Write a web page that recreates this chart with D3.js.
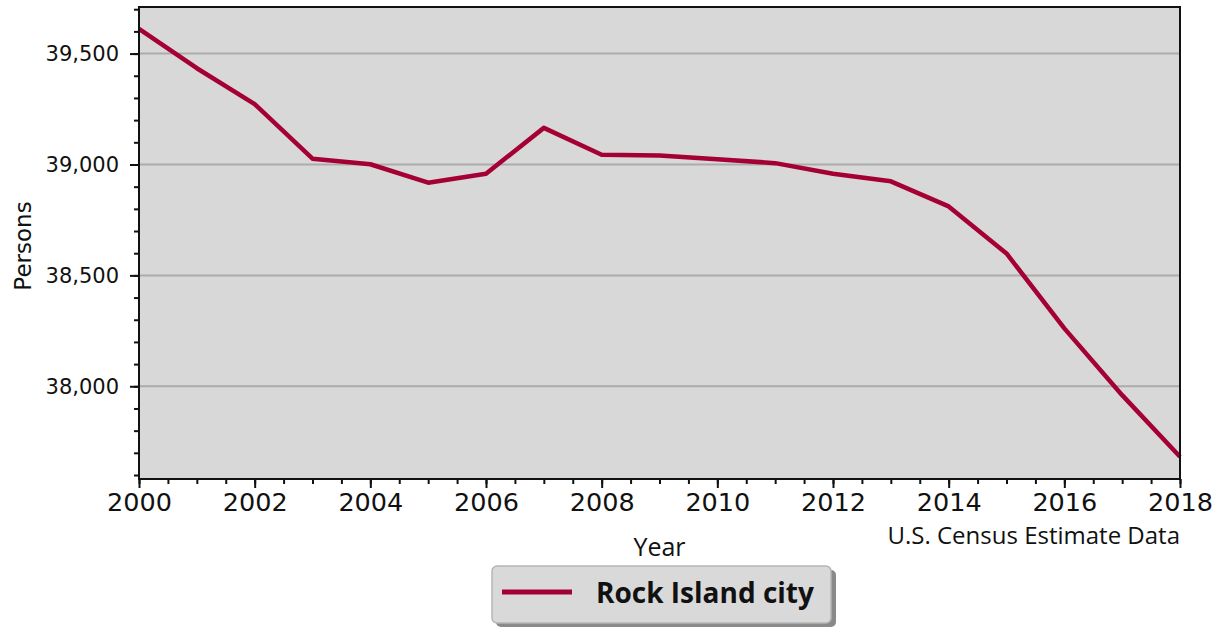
<!DOCTYPE html>
<html><head><meta charset="utf-8">
<script src="https://cdn.jsdelivr.net/npm/d3@7"></script>
<style>
html,body{margin:0;padding:0;background:#fff;}
svg{display:block;}
</style></head>
<body>
<svg id="chart" width="1225" height="628"></svg>
<script>
const years = [2000,2001,2002,2003,2004,2005,2006,2007,2008,2009,2010,2011,2012,2013,2014,2015,2016,2017,2018];
const population = [39611,39434,39272,39026,39001,38918,38958,39165,39044,39041,39024,39006,38958,38924,38811,38599,38261,37960,37682];
const yTickValues = [38000,38500,39000,39500];
const xTickValues = [2000,2002,2004,2006,2008,2010,2012,2014,2016,2018];
const seriesName = "Rock Island city";
const xTitle = "Year";
const yTitle = "Persons";
const sourceNote = "U.S. Census Estimate Data";

const svg = d3.select("#chart");
const m = {left:139, right:1180, top:7, bottom:479};
const x = d3.scaleLinear().domain([2000,2018]).range([m.left, m.right]);
const y = d3.scaleLinear().domain([37582,39710]).range([m.bottom, m.top]);

svg.append("rect").attr("x",m.left).attr("y",m.top)
  .attr("width",m.right-m.left).attr("height",m.bottom-m.top).attr("fill","#d8d8d8");

svg.append("g").selectAll("line").data(yTickValues).join("line")
  .attr("x1",m.left).attr("x2",m.right)
  .attr("y1",d=>y(d)).attr("y2",d=>y(d))
  .attr("stroke","#ababab").attr("stroke-width",2);

const line = d3.line().x((d,i)=>x(years[i])).y(d=>y(d));
svg.append("path").datum(population).attr("d",line)
  .attr("fill","none").attr("stroke","#a50034").attr("stroke-width",4.5)
  .attr("stroke-linejoin","round");

svg.append("rect").attr("x",m.left).attr("y",m.top)
  .attr("width",m.right-m.left).attr("height",m.bottom-m.top)
  .attr("fill","none").attr("stroke","#111").attr("stroke-width",2);

const yMinor = d3.range(37600, 39701, 100);
svg.append("g").attr("transform",`translate(${m.left},0)`)
  .call(d3.axisLeft(y).tickValues(yMinor).tickSize(5).tickFormat(""))
  .call(g=>g.select(".domain").remove())
  .call(g=>g.selectAll("line").attr("stroke","#111").attr("stroke-width",2));
svg.append("g").attr("transform",`translate(${m.left},0)`)
  .call(d3.axisLeft(y).tickValues(yTickValues).tickSize(9).tickPadding(11).tickFormat(d3.format(",")))
  .call(g=>g.select(".domain").remove())
  .call(g=>g.selectAll("line").attr("stroke","#111").attr("stroke-width",2))
  .call(g=>g.selectAll("text").attr("font-family","DejaVu Sans").attr("font-size",21).attr("fill","#111"));

const xMinor = d3.range(2000, 2018.01, 0.5);
svg.append("g").attr("transform",`translate(0,${m.bottom})`)
  .call(d3.axisBottom(x).tickValues(xMinor).tickSize(5).tickFormat(""))
  .call(g=>g.select(".domain").remove())
  .call(g=>g.selectAll("line").attr("stroke","#111").attr("stroke-width",2));
svg.append("g").attr("transform",`translate(0,${m.bottom})`)
  .call(d3.axisBottom(x).tickValues(xTickValues).tickSize(9).tickPadding(5).tickFormat(d3.format("d")))
  .call(g=>g.select(".domain").remove())
  .call(g=>g.selectAll("line").attr("stroke","#111").attr("stroke-width",2))
  .call(g=>g.selectAll("text").attr("font-family","DejaVu Sans").attr("font-size",25.5).attr("fill","#111"));

svg.append("text").attr("x",(m.left+m.right)/2).attr("y",556)
  .attr("text-anchor","middle").attr("font-family","Open Sans").attr("font-size",25)
  .attr("fill","#111").text(xTitle);
svg.append("text").attr("transform",`translate(31,246) rotate(-90)`)
  .attr("text-anchor","middle").attr("font-family","DejaVu Sans").attr("font-size",23)
  .attr("fill","#111").text(yTitle);
svg.append("text").attr("x",m.right).attr("y",544)
  .attr("text-anchor","end").attr("font-family","Open Sans").attr("font-size",24)
  .attr("fill","#111").text(sourceNote);

const lg = svg.append("g");
lg.append("rect").attr("x",496).attr("y",570).attr("width",340).attr("height",57)
  .attr("rx",5).attr("fill","#8a8a8a");
lg.append("rect").attr("x",492).attr("y",566).attr("width",339).attr("height",57)
  .attr("rx",5).attr("fill","#d9d9d9").attr("stroke","#b5b5b5").attr("stroke-width",1.5);
lg.append("line").attr("x1",502).attr("x2",572).attr("y1",592).attr("y2",592)
  .attr("stroke","#a50034").attr("stroke-width",5);
lg.append("text").attr("x",596).attr("y",603).attr("font-family","Open Sans").attr("font-weight","bold")
  .attr("font-size",28).attr("fill","#111").text(seriesName);
</script>
</body></html>
